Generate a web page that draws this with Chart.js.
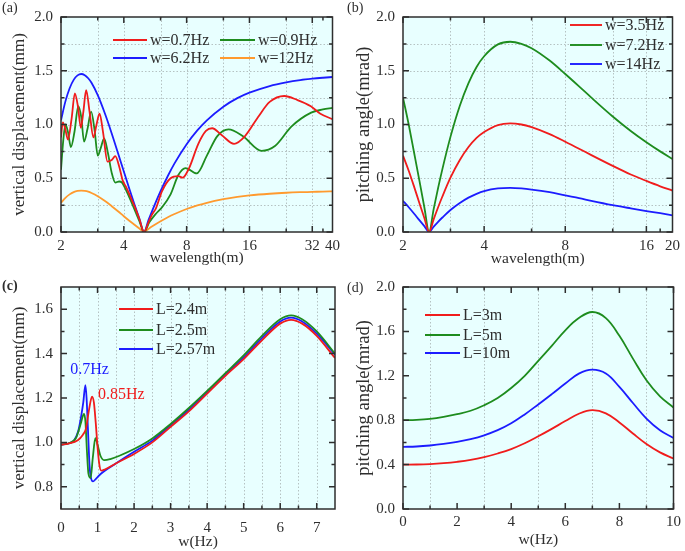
<!DOCTYPE html>
<html>
<head>
<meta charset="utf-8">
<script src="https://cdn.jsdelivr.net/npm/chart.js@4.4.1/dist/chart.umd.min.js"></script>
<style>
  html,body{margin:0;padding:0;background:#fff;}
  .p{position:absolute;}
</style>
</head>
<body>
<div class="p" style="left:0;top:0;width:345px;height:270px"><canvas id="ca" width="345" height="270"></canvas></div>
<div class="p" style="left:345px;top:0;width:340px;height:270px"><canvas id="cb" width="340" height="270"></canvas></div>
<div class="p" style="left:0;top:270px;width:345px;height:281px"><canvas id="cc" width="345" height="281"></canvas></div>
<div class="p" style="left:345px;top:270px;width:340px;height:281px"><canvas id="cd" width="340" height="281"></canvas></div>
<script>
// ---------------- DATA ----------------
// (a) vertical displacement vs wavelength
const aRedX = [2.0,2.04,2.09,2.16,2.25,2.33,2.41,2.49,2.56,2.64,2.74,2.86,2.96,3.06,3.18,3.34,3.5,3.64,3.8,3.95,4.1,4.3,4.5,4.75,5.0,5.25,5.45,5.7,6.1,6.7,7.3,7.65,8.2,9.1,9.9,10.6,11.8,13.5,15.2,17.6,20,23.5,27,31.5,35,40];
const aRedY = [0.88,1.02,0.97,0.86,1.06,1.29,1.17,0.97,1.12,1.32,1.12,0.88,1.0,1.10,0.93,0.655,0.67,0.705,0.61,0.48,0.42,0.33,0.24,0.12,0.0,0.09,0.16,0.22,0.38,0.50,0.52,0.505,0.59,0.82,0.94,0.965,0.90,0.82,0.89,1.07,1.21,1.265,1.23,1.17,1.10,1.05];
const aGreenX = [2.0,2.05,2.1,2.16,2.23,2.32,2.42,2.5,2.58,2.68,2.79,2.9,3.0,3.1,3.22,3.36,3.5,3.64,3.8,3.92,4.1,4.3,4.5,4.75,5.0,5.3,5.7,6.1,6.7,7.3,7.9,8.95,10.0,11.2,12.7,14.9,18.3,21.2,25.4,31.6,36,40];
const aGreenY = [0.58,0.85,1.0,0.93,0.79,0.93,1.17,1.07,0.84,0.96,1.12,0.94,0.71,0.78,0.87,0.73,0.55,0.46,0.47,0.46,0.39,0.30,0.21,0.10,0.0,0.09,0.17,0.23,0.35,0.53,0.595,0.545,0.71,0.89,0.955,0.89,0.755,0.80,0.98,1.11,1.14,1.155];
const aBlueX = [2.0,2.1,2.2,2.3,2.4,2.5,2.6,2.7,2.8,3.0,3.25,3.5,3.75,4.0,4.25,4.5,4.75,5.0,5.25,5.5,6.0,6.5,7.0,8.0,9.0,10,12,14,16,20,24,28,32,36,40];
const aBlueY = [1.04,1.215,1.337,1.415,1.457,1.47,1.459,1.43,1.388,1.273,1.10,0.917,0.735,0.563,0.402,0.255,0.122,0.0,0.11,0.209,0.38,0.521,0.638,0.817,0.945,1.039,1.166,1.245,1.296,1.358,1.392,1.413,1.426,1.435,1.442];
const aOrangeX = aBlueX;
const aOrangeY = [0.272,0.318,0.350,0.371,0.382,0.385,0.382,0.375,0.363,0.333,0.288,0.240,0.193,0.147,0.105,0.067,0.032,0.0,0.029,0.055,0.10,0.137,0.167,0.214,0.247,0.272,0.305,0.326,0.340,0.356,0.365,0.370,0.373,0.376,0.378];
const aLabels = ['w=0.7Hz','w=0.9Hz','w=6.2Hz','w=12Hz'];
const aXTicks = [2,4,8,16,32,40];
const aXMinor = [3,6,12,24,36];
const aYTicks = [0,0.5,1.0,1.5,2.0];
const aYMinor = [0.25,0.75,1.25,1.75];

// (b) pitching angle vs wavelength
const bX = [2,2.1,2.2,2.3,2.4,2.5,2.6,2.7,2.8,3,3.25,3.5,3.75,4,4.5,5,5.5,6,7,8,9,10,12,14,16,18,20];
const bRedY = [0.71,0.57,0.42,0.27,0.13,0.0,0.12,0.23,0.33,0.505,0.67,0.79,0.875,0.93,0.995,1.01,1.0,0.975,0.91,0.84,0.775,0.715,0.615,0.535,0.475,0.425,0.385];
const bGreenY = [1.25,1.0,0.735,0.48,0.23,0.0,0.215,0.41,0.585,0.885,1.175,1.385,1.535,1.635,1.745,1.77,1.75,1.71,1.595,1.47,1.355,1.25,1.075,0.94,0.835,0.75,0.68];
const bBlueY = [0.29,0.23,0.17,0.11,0.055,0.0,0.05,0.095,0.135,0.205,0.27,0.32,0.355,0.38,0.405,0.41,0.405,0.395,0.37,0.34,0.315,0.29,0.25,0.22,0.195,0.175,0.155];
const bLabels = ['w=3.5Hz','w=7.2Hz','w=14Hz'];
const bXTicks = [2,4,8,16,20];
const bXMinor = [3,6,12,18];
const bYTicks = [0,0.5,1.0,1.5,2.0];
const bYMinor = [0.25,0.75,1.25,1.75];

// (c) vertical displacement vs w
const cRedX = [0,0.2,0.46,0.6,0.68,0.77,0.85,0.9,0.95,1.0,1.05,1.1,1.2,1.5,2.0,2.5,3.0,3.5,4.0,4.5,5.0,5.5,6.0,6.3,6.6,7.0,7.5];
const cRedY = [0.99,0.995,1.01,1.035,1.06,1.15,1.206,1.18,1.09,0.98,0.9,0.873,0.878,0.905,0.948,1.0,1.07,1.14,1.22,1.30,1.375,1.46,1.535,1.552,1.535,1.48,1.38];
const cGreenX = [0,0.2,0.41,0.55,0.6,0.63,0.67,0.71,0.75,0.81,0.87,0.94,1.0,1.08,1.19,1.35,1.6,2.0,2.5,3.0,3.5,4.0,4.5,5.0,5.5,6.0,6.3,6.6,7.0,7.5];
const cGreenY = [0.99,0.995,1.02,1.09,1.12,1.128,1.09,0.96,0.86,0.839,0.93,1.019,0.99,0.94,0.92,0.925,0.94,0.97,1.018,1.083,1.155,1.232,1.312,1.392,1.48,1.555,1.572,1.555,1.5,1.40];
const cBlueX = [0,0.2,0.36,0.47,0.55,0.61,0.667,0.7,0.74,0.78,0.82,0.876,0.95,1.1,1.5,2.0,2.5,3.0,3.5,4.0,4.5,5.0,5.5,6.0,6.3,6.6,7.0,7.5];
const cBlueY = [0.99,0.995,1.01,1.05,1.116,1.18,1.258,1.2,1.05,0.9,0.84,0.824,0.835,0.86,0.905,0.958,1.008,1.077,1.147,1.226,1.306,1.383,1.47,1.545,1.562,1.545,1.49,1.395];
const cLabels = ['L=2.4m','L=2.5m','L=2.57m'];
const cXTicks = [0,1,2,3,4,5,6,7];
const cXMinor = [0.5,1.5,2.5,3.5,4.5,5.5,6.5];
const cYTicks = [0.8,1.0,1.2,1.4,1.6];
const cYMinor = [0.9,1.1,1.3,1.5];

// (d) pitching angle vs w
const dX = [0,0.5,1,1.5,2,2.5,3,3.5,4,4.5,5,5.5,6,6.5,7,7.5,8,8.5,9,9.5,10];
const dRedY = [0.40,0.401,0.405,0.413,0.425,0.442,0.467,0.50,0.54,0.592,0.655,0.722,0.792,0.858,0.89,0.862,0.78,0.68,0.585,0.51,0.455];
const dGreenY = [0.80,0.803,0.812,0.83,0.855,0.885,0.935,1.0,1.09,1.2,1.335,1.47,1.61,1.72,1.775,1.72,1.56,1.355,1.16,1.015,0.915];
const dBlueY = [0.56,0.563,0.572,0.586,0.605,0.63,0.664,0.71,0.772,0.852,0.942,1.035,1.13,1.22,1.255,1.22,1.1,0.955,0.815,0.71,0.64];
const dLabels = ['L=3m','L=5m','L=10m'];
const dXTicks = [0,2,4,6,8,10];
const dXMinor = [1,3,5,7,9];
const dYTicks = [0,0.4,0.8,1.2,1.6,2.0];
const dYMinor = [0.2,0.6,1.0,1.4,1.8];

// ---------------- STYLE ----------------
const RED = '#f01c1c', GREEN = '#1e8c1e', BLUE = '#1c1cff', ORANGE = '#ff9a2e';
const BG = '#e8ffff', INK = '#2e2e2e';
const SERIF = '"Liberation Serif","Times New Roman",serif';
Chart.defaults.font.family = SERIF;
Chart.defaults.color = INK;

function pts(xs, ys){ return xs.map((x,i)=>({x:x, y:ys[i]})); }
function ds(label, xs, ys, color, smooth){
  const d = {label:label, data:pts(xs,ys), borderColor:color, backgroundColor:color,
    borderWidth:1.8, pointRadius:0, fill:false};
  if (smooth) { d.tension = 0.4; } else { d.cubicInterpolationMode = 'monotone'; }
  return d;
}

const decor = {
  id:'decor',
  beforeDraw(chart, args, o){
    const {ctx, chartArea:a} = chart;
    ctx.save(); ctx.fillStyle = BG; ctx.fillRect(a.left, a.top, a.right-a.left, a.bottom-a.top); ctx.restore();
  },
  beforeDatasetsDraw(chart, args, o){
    const {ctx, chartArea:a, scales:{x, y}} = chart;
    ctx.save();
    ctx.strokeStyle = 'rgba(120,120,120,0.45)'; ctx.lineWidth = 1; ctx.setLineDash([1.5,2]);
    (o.gridX||[]).forEach(v=>{ const px=Math.round(x.getPixelForValue(v))+0.5; ctx.beginPath(); ctx.moveTo(px,a.top); ctx.lineTo(px,a.bottom); ctx.stroke(); });
    (o.gridY||[]).forEach(v=>{ const py=Math.round(y.getPixelForValue(v))+0.5; ctx.beginPath(); ctx.moveTo(a.left,py); ctx.lineTo(a.right,py); ctx.stroke(); });
    ctx.restore();
  },
  afterDatasetsDraw(chart, args, o){
    const {ctx, chartArea:a, scales:{x, y}} = chart;
    ctx.save();
    ctx.strokeStyle = INK; ctx.lineWidth = 1.5; ctx.setLineDash([]);
    const tick = (vals, len, horiz) => vals.forEach(v=>{
      if (horiz){ const px=x.getPixelForValue(v);
        ctx.beginPath(); ctx.moveTo(px,a.bottom); ctx.lineTo(px,a.bottom-len); ctx.moveTo(px,a.top); ctx.lineTo(px,a.top+len); ctx.stroke();
      } else { const py=y.getPixelForValue(v);
        ctx.beginPath(); ctx.moveTo(a.left,py); ctx.lineTo(a.left+len,py); ctx.moveTo(a.right,py); ctx.lineTo(a.right-len,py); ctx.stroke(); }
    });
    tick(o.xMajor, 6, true); tick(o.xMinor, 3.5, true);
    tick(o.yMajor, 6, false); tick(o.yMinor, 3.5, false);
    ctx.strokeRect(a.left, a.top, a.right-a.left, a.bottom-a.top);
    ctx.restore();
  },
  afterDraw(chart, args, o){
    const {ctx, scales:{x, y}} = chart;
    ctx.save();
    // legend
    ctx.font = '16px ' + SERIF; ctx.textBaseline = 'middle'; ctx.textAlign = 'left';
    chart.data.datasets.forEach((d,i)=>{
      const L = o.legend[i];
      ctx.strokeStyle = d.borderColor; ctx.lineWidth = 1.9;
      ctx.beginPath(); ctx.moveTo(L[0], L[2]); ctx.lineTo(L[1], L[2]); ctx.stroke();
      ctx.fillStyle = INK; ctx.fillText(d.label, L[1]+3, L[2]+1);
    });
    // annotations
    (o.notes||[]).forEach(n=>{
      ctx.font = '16px ' + SERIF; ctx.fillStyle = n.color;
      ctx.fillText(n.text, x.getPixelForValue(n.x), y.getPixelForValue(n.y));
    });
    // panel label
    ctx.font = (o.bold?'bold ':'') + '14px ' + SERIF; ctx.fillStyle = INK;
    ctx.fillText(o.panel, o.panelPos[0], o.panelPos[1]);
    ctx.restore();
  }
};

function axisX(type, min, max, ticks, title, h, tpad, lpad){
  return {type:type, min:min, max:max,
    grid:{display:false, drawTicks:false}, border:{display:false},
    afterBuildTicks:(s)=>{ s.ticks = ticks.map(v=>({value:v})); },
    afterFit:(s)=>{ s.height = h; },
    ticks:{autoSkip:false, maxRotation:0, minRotation:0, padding:lpad, color:INK, font:{size:15},
      callback:(v)=>String(v)},
    title:{display:true, text:title, color:INK, font:{size:15.5}, padding:{top:0, bottom:tpad}}
  };
}
function axisY(min, max, ticks, title, w, tsize, tpad, dec){
  return {type:'linear', min:min, max:max,
    grid:{display:false, drawTicks:false}, border:{display:false},
    afterBuildTicks:(s)=>{ s.ticks = ticks.map(v=>({value:v})); },
    afterFit:(s)=>{ s.width = w; },
    ticks:{autoSkip:false, padding:8, color:INK, font:{size:15}, callback:(v)=>Number(v).toFixed(dec)},
    title:{display:true, text:title, color:INK, font:{size:tsize}, padding:{top:tpad, bottom:0}}
  };
}

function make(id, datasets, scales, pad, decorOpts){
  return new Chart(document.getElementById(id), {
    type:'line',
    data:{datasets:datasets},
    options:{responsive:false, animation:false, events:[],
      layout:{padding:pad},
      scales:scales,
      plugins:{legend:{display:false}, tooltip:{enabled:false}, title:{display:false}, decor:decorOpts}
    },
    plugins:[decor]
  });
}

// (a)
make('ca', [
  ds(aLabels[0], aRedX, aRedY, RED),
  ds(aLabels[1], aGreenX, aGreenY, GREEN),
  ds(aLabels[2], aBlueX, aBlueY, BLUE),
  ds(aLabels[3], aOrangeX, aOrangeY, ORANGE)
], {
  x: axisX('logarithmic', 2, 40, aXTicks, 'wavelength(m)', 38, 3, 5),
  y: axisY(0, 2, aYTicks, 'vertical displacement(mm)', 61, 17, 9, 1)
}, {left:0, right:10, top:10, bottom:0}, {
  xMajor:aXTicks.slice(0,5), xMinor:aXMinor, yMajor:aYTicks, yMinor:aYMinor,
  gridX:[3,4,6,8,12,16,24,32], gridY:[0.25,0.5,0.75,1.0,1.25,1.5,1.75],
  legend:[[113,147,40],[220,255,40],[113,147,58],[220,255,58]],
  panel:'(a)', panelPos:[2,8]
});

// (b)
make('cb', [
  ds(bLabels[0], bX, bRedY, RED),
  ds(bLabels[1], bX, bGreenY, GREEN),
  ds(bLabels[2], bX, bBlueY, BLUE)
], {
  x: axisX('logarithmic', 2, 20, bXTicks, 'wavelength(m)', 38, 2, 5),
  y: axisY(0, 2, bYTicks, 'pitching angle(mrad)', 58, 18.5, 8, 1)
}, {left:0, right:8, top:10, bottom:0}, {
  xMajor:bXTicks.slice(0,4), xMinor:bXMinor, yMajor:bYTicks, yMinor:bYMinor,
  gridX:[3,4,6,8,12,16], gridY:[0.25,0.5,0.75,1.0,1.25,1.5,1.75],
  legend:[[225,257,25],[225,257,45],[225,257,64]],
  panel:'(b)', panelPos:[2,8]
});

// (c)
make('cc', [
  ds(cLabels[0], cRedX, cRedY, RED),
  ds(cLabels[1], cGreenX, cGreenY, GREEN),
  ds(cLabels[2], cBlueX, cBlueY, BLUE)
], {
  x: axisX('linear', 0, 7.5, cXTicks, 'w(Hz)', 42, 0, 10),
  y: axisY(0.7, 1.7, cYTicks, 'vertical displacement(mm)', 61, 17, 9, 1)
}, {left:0, right:10, top:15, bottom:0}, {
  xMajor:cXTicks, xMinor:cXMinor, yMajor:cYTicks, yMinor:cYMinor,
  gridX:[0.5,1,1.5,2,2.5,3,3.5,4,4.5,5,5.5,6,6.5,7], gridY:[],
  legend:[[119,153,39],[119,153,60],[119,153,79]],
  notes:[{text:'0.7Hz', x:0.25, y:1.326, color:BLUE},{text:'0.85Hz', x:1.01, y:1.213, color:RED}],
  panel:'(c)', panelPos:[2,16], bold:true
});

// (d)
make('cd', [
  ds(dLabels[0], dX, dRedY, RED, true),
  ds(dLabels[1], dX, dGreenY, GREEN, true),
  ds(dLabels[2], dX, dBlueY, BLUE, true)
], {
  x: axisX('linear', 0, 10, dXTicks, 'w(Hz)', 42, 2, 4),
  y: axisY(0, 2, dYTicks, 'pitching angle(mrad)', 58, 18.5, 8, 1)
}, {left:0, right:8, top:17, bottom:0}, {
  xMajor:dXTicks, xMinor:dXMinor, yMajor:dYTicks, yMinor:dYMinor,
  gridX:[1,3,5,7,9], gridY:[],
  legend:[[80,115,45],[80,115,65],[80,115,83]],
  panel:'(d)', panelPos:[2,18]
});
</script>
</body>
</html>
